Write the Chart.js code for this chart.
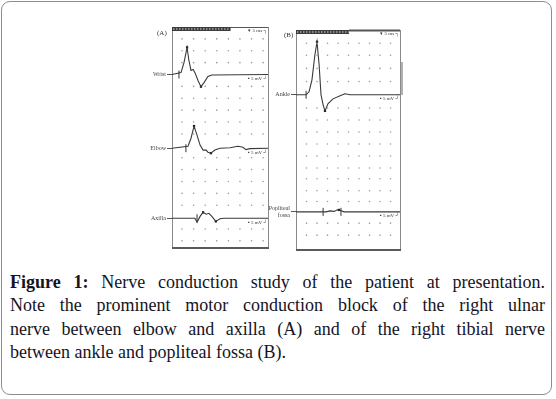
<!DOCTYPE html>
<html>
<head>
<meta charset="utf-8">
<script src="https://cdn.jsdelivr.net/npm/chart.js@4/dist/chart.umd.min.js"></script>
<style>
  body { margin: 0; background: #fff; }
  #wrap { position: relative; width: 556px; height: 399px; overflow: hidden; }
  #frame { position: absolute; left: 1px; top: 1px; width: 549px; height: 392px;
           border: 1.5px solid #8c8c8c; border-radius: 9px; }
  canvas { position: absolute; top: 0; }
  #chartA { left: 0; }
  #chartB { left: 260px; }
  #cap { position: absolute; left: 10px; top: 271px; width: 535px;
         font-family: "Liberation Serif", serif; font-size: 18px; line-height: 23.3px; color: #14141f; }
  #cap div { text-align: justify; text-align-last: justify; white-space: nowrap; }
  #cap div.last { text-align-last: left; }
  #cap b { font-weight: bold; }
</style>
</head>
<body>
<div id="wrap">
  <div id="frame"></div>
  <canvas id="chartA" width="280" height="260"></canvas>
  <canvas id="chartB" width="160" height="260"></canvas>
  <div id="cap">
    <div><b>Figure 1:</b> Nerve conduction study of the patient at presentation.</div>
    <div>Note the prominent motor conduction block of the right ulnar</div>
    <div>nerve between elbow and axilla (A) and of the right tibial nerve</div>
    <div class="last">between ankle and popliteal fossa (B).</div>
  </div>
</div>
<script>
// panel A - ulnar nerve (ms across, mV up, each trace shifted to its own baseline)
const colsA = [4.3, 9.3, 14.3, 19.3, 24.3, 29.3, 34.3, 39.3];
const rowsA = [-5, -10, -15, -25, -30, -35, -40, -45, -55, -60, -65, -70, -75, -85, -90];
const namesA = ["Wrist", "Elbow", "Axilla"];
const baseA = [-20, -51, -80.5];
const stimA = [3.0, 6.0, 10.8];

const wristMs = [0, 3.9, 5.2, 6.5, 7.3, 8.2, 9.1, 9.9, 11.2, 12.5, 13.8, 15.5, 17.2, 41.4];
const wristMv = [0, 0.8, 5.1, 11.4, 5.9, 1.7, 2.1, 0.8, -2.5, -5.1, -3.4, -0.8, -0.2, 0];
const elbowMs = [0, 6.9, 8.2, 9.5, 10.8, 12.1, 13.4, 14.7, 15.5, 16.8, 18.5, 20.7, 25.0, 28.4, 30.6, 31.9, 33.6, 41.4];
const elbowMv = [0, 0.8, 4.2, 9.3, 5.5, 1.3, -0.8, -0.8, -1.7, -2.1, -0.8, 0, 0.2, 0.8, 0.4, -0.6, -0.2, 0];
const axillaMs = [0, 9.9, 10.8, 12.1, 13.4, 14.7, 15.9, 17.2, 18.9, 20.7, 22.4, 41.4];
const axillaMv = [0, 0, -1.7, 0.8, 2.5, 1.7, 2.1, 0.8, -1.3, -0.2, 0, 0];
const peaksA = [[6.5, 11.4, 0], [12.5, -5.1, 0], [9.5, 9.3, 1], [16.8, -2.1, 1], [13.4, 2.5, 2], [18.9, -1.3, 2]];

// panel B - tibial nerve
const colsB = [5, 10, 15, 20, 25, 30, 35, 40, 45];
const rowsB = [-5.5, -10.5, -16, -21.5, -32.5, -37.5, -42.5, -47.5, -52.5, -57.5, -62, -67, -71.5, -80.5, -85.5];
const namesB = ["Ankle", ["Popliteal", "fossa"]];
const baseB = [-27, -75.8];
const stimB = [4.8, 12.9, 21.4];
const stimRowB = [0, 1, 1];

const ankleMs = [0, 4.8, 6.2, 7.6, 9.0, 10.0, 11.0, 11.9, 12.9, 13.8, 15.2, 17.6, 21.0, 23.3, 25.7, 49.5];
const ankleMv = [0, 0, 1.25, 6.25, 16.7, 22.1, 12.5, 0, -4.2, -6.7, -3.75, -1.7, -0.4, 0.4, 0, 0];
const poplMs = [0, 14.3, 16.2, 18.1, 19.5, 20.6, 22.9, 49.5];
const poplMv = [0, 0, 0.4, 0.2, 0.8, 0.8, 0, 0];
const peaksB = [[10.0, 22.1, 0], [13.8, -6.7, 0], [20.4, 0.8, 1]];

function trace(ms, mv, base) {
  return ms.map((x, i) => ({x: x, y: base + mv[i]}));
}
function dots(cols, rows) {
  const out = [];
  rows.forEach(r => cols.forEach(c => out.push({x: c, y: r})));
  return out;
}
function lineSet(data) {
  return {data: data, showLine: true, borderColor: "#3a3a3a", borderWidth: 1.1, pointRadius: 0, tension: 0};
}

// box, recorder bar at top, small scale notes
function panelPlugin(opt) {
  return {
    id: "panel",
    beforeDatasetsDraw(chart) {
      const a = chart.chartArea, ctx = chart.ctx;
      ctx.save();
      ctx.strokeStyle = "#8a8a8a";
      ctx.lineWidth = 1;
      ctx.strokeRect(a.left + 0.5, a.top + 0.5, a.right - a.left, a.bottom - a.top);
      ctx.strokeStyle = "#5a5a5a";
      ctx.lineWidth = 2;
      ctx.beginPath(); ctx.moveTo(a.left, a.bottom); ctx.lineTo(a.right + 1, a.bottom); ctx.stroke();
      // hatched bar
      const w = (a.right - a.left) * opt.bar;
      ctx.fillStyle = "#3c3c3c";
      ctx.fillRect(a.left, a.top, w, 4);
      ctx.fillStyle = "#d8d8d8";
      for (let x = a.left + 1; x < a.left + w - 1; x += 3) ctx.fillRect(x, a.top + 1.5, 1.5, 1);
      ctx.strokeStyle = "#555";
      ctx.lineWidth = opt.thick;
      ctx.beginPath(); ctx.moveTo(a.left + w, a.top + 0.5); ctx.lineTo(a.right, a.top + 0.5); ctx.stroke();
      ctx.restore();
    },
    afterDatasetsDraw(chart) {
      const a = chart.chartArea, ctx = chart.ctx, y = chart.scales.y;
      ctx.save();
      ctx.fillStyle = "#333";
      ctx.font = "5px 'Liberation Serif'";
      ctx.textAlign = "right";
      ctx.textBaseline = "middle";
      ctx.fillText("\u25BE 5 ms \u2510", a.right - 1, a.top + 4);
      opt.bases.forEach(b => ctx.fillText("\u25AA 5 mV \u2518", a.right - 1, y.getPixelForValue(b) + 4));
      ctx.font = "7px 'Liberation Serif'";
      ctx.textAlign = "left";
      ctx.fillText(opt.tag, opt.tagX, opt.tagY);
      if (opt.side) {
        ctx.strokeStyle = "#b0b0b0";
        ctx.lineWidth = 2;
        ctx.beginPath(); ctx.moveTo(a.right + 2, a.top + 32); ctx.lineTo(a.right + 2, a.top + 65); ctx.stroke();
      }
      ctx.restore();
    }
  };
}

function options(xmax, ymin, names, bases, yWidth, pad) {
  return {
    responsive: false,
    animation: false,
    devicePixelRatio: 1,
    layout: {padding: pad},
    plugins: {legend: {display: false}, tooltip: {enabled: false}},
    scales: {
      x: {type: "linear", display: false, min: 0, max: xmax},
      y: {
        type: "linear", min: ymin, max: 0,
        border: {display: false},
        grid: {drawOnChartArea: false, drawTicks: true, tickLength: 5, color: "#555"},
        ticks: {font: {family: "Liberation Serif", size: 6}, color: "#444", padding: 1,
                callback: (v, i) => names[i]},
        afterBuildTicks: ax => { ax.ticks = bases.map(v => ({value: v})); },
        afterFit: ax => { ax.width = yWidth; }
      }
    }
  };
}

new Chart(document.getElementById("chartA"), {
  type: "scatter",
  data: {datasets: [
    {data: dots(colsA, rowsA), pointRadius: 0.8, backgroundColor: "#9c9c9c", borderWidth: 0},
    lineSet(trace(wristMs, wristMv, baseA[0])),
    lineSet(trace(elbowMs, elbowMv, baseA[1])),
    lineSet(trace(axillaMs, axillaMv, baseA[2])),
    {data: stimA.map((s, i) => ({x: s, y: baseA[i]})), pointStyle: "line", rotation: 90,
     pointRadius: 4, borderColor: "#333", borderWidth: 1},
    {data: peaksA.map(p => ({x: p[0], y: baseA[p[2]] + p[1]})), pointStyle: "rect",
     pointRadius: 1.6, backgroundColor: "#111", borderWidth: 0}
  ]},
  options: options(41.4, -93, namesA, baseA, 30, {left: 142, top: 27, right: 12, bottom: 12}),
  plugins: [panelPlugin({bar: 0.61, thick: 1, bases: baseA, tag: "(A)", tagX: 157, tagY: 33, side: false})]
});

new Chart(document.getElementById("chartB"), {
  type: "scatter",
  data: {datasets: [
    {data: dots(colsB, rowsB), pointRadius: 0.8, backgroundColor: "#9c9c9c", borderWidth: 0},
    lineSet(trace(ankleMs, ankleMv, baseB[0])),
    lineSet(trace(poplMs, poplMv, baseB[1])),
    {data: stimB.map((s, i) => ({x: s, y: baseB[stimRowB[i]]})), pointStyle: "line", rotation: 90,
     pointRadius: 4, borderColor: "#333", borderWidth: 1},
    {data: peaksB.map(p => ({x: p[0], y: baseB[p[2]] + p[1]})), pointStyle: "rect",
     pointRadius: 1.6, backgroundColor: "#111", borderWidth: 0}
  ]},
  options: options(49.5, -91.7, namesB, baseB, 36, {left: 0, top: 30, right: 20, bottom: 10}),
  plugins: [panelPlugin({bar: 0.51, thick: 2, bases: baseB, tag: "(B)", tagX: 24, tagY: 35, side: true})]
});
</script>
</body>
</html>
